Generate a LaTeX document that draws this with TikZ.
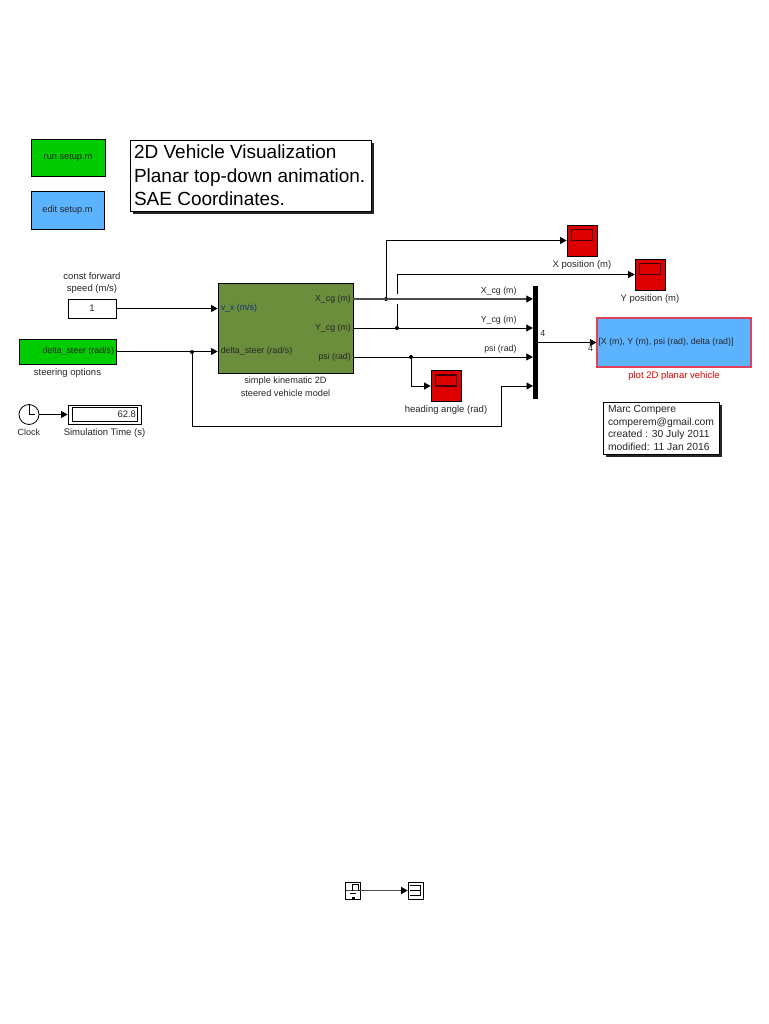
\documentclass[tikz,border=0pt]{standalone}
\usepackage{fontspec}
\setmainfont{Liberation Sans}
\usetikzlibrary{arrows.meta, positioning, shadows}
\definecolor{simgreen}{HTML}{00CC00}
\definecolor{simblue}{HTML}{5CB3FF}
\definecolor{simolive}{HTML}{6B8E3C}
\definecolor{simred}{HTML}{DC0000}
\definecolor{plotedge}{HTML}{E2405A}
\definecolor{porttext}{HTML}{12307A}
\begin{document}
\begin{tikzpicture}[
  x=1pt, y=-1pt,
  font=\fontsize{9.5}{12}\selectfont,
  text=black!85,
  block/.style={rectangle, draw=black, line width=0.8pt, inner sep=0pt, align=center},
  scopebox/.style={block, fill=simred, minimum width=30pt, minimum height=31pt},
  screen/.style={rectangle, draw=black!70!simred, line width=1.3pt, minimum width=21pt, minimum height=11pt, inner sep=0pt},
  notebox/.style={block, fill=white, align=flush left, drop shadow={shadow xshift=3pt, shadow yshift=-3pt, fill=black!85, opacity=1}},
  caption/.style={inner sep=0pt, align=center},
  portlabel/.style={caption, font=\fontsize{8.8}{10}\selectfont},
  button/.style={block, font=\fontsize{9.2}{11}\selectfont},
  junction/.style={circle, fill=black, minimum size=4pt, inner sep=0pt},
  iconbox/.style={block, line width=0.7pt, minimum width=15pt, minimum height=17pt},
  wire/.style={line width=0.8pt, draw=black},
  sig/.style={wire, -{Stealth[length=6.5pt, width=7pt, inset=0pt, black]}},
  heavy/.style={line width=1.2pt, draw=black!70},
]
\useasboundingbox (0,0) rectangle (768,1024);

% Buttons
\node[button, fill=simgreen, minimum width=74pt, minimum height=37pt] (run) at (68,157.5) {run setup.m};
\node[button, fill=simblue, minimum width=73pt, minimum height=38pt] (edit) at (67.5,210) {edit setup.m};

% Title and note
\node[notebox, font=\fontsize{19}{23.4}\selectfont, text=black, minimum width=241pt, minimum height=71pt, text width=233pt] (title) at (250.5,175.5) {2D Vehicle Visualization\\Planar top-down animation.\\SAE Coordinates.};
\node[notebox, font=\fontsize{10.3}{12.4}\selectfont, minimum width=116pt, minimum height=52pt, text width=106pt] (note) at (661,428) {Marc Compere\\comperem@gmail.com\\created : 30 July 2011\\modified: 11 Jan 2016};

% Sources
\node[block, minimum width=48pt, minimum height=19pt] (speed) at (92,308.5) {1};
\node[caption, above=5pt of speed] (speedcap) {const forward\\speed (m/s)};
\node[button, fill=simgreen, minimum width=97pt, minimum height=25pt, text width=93pt, align=flush right, font=\fontsize{8.8}{10}\selectfont] (steer) at (67.5,351.5) {delta\_steer (rad/s)};
\node[caption, below=4pt of steer] (steercap) {steering options};
\node[circle, draw=black, line width=0.8pt, minimum size=20pt, inner sep=0pt] (clock) at (29,414.5) {};
\draw[wire] (clock.center) -- (clock.north) (clock.center) -- ++(6,0);
\node[caption, below=4pt of clock, font=\fontsize{9}{11}\selectfont] (clockcap) {Clock};
\node[block, minimum width=73pt, minimum height=19pt] (sim) at (104.5,414.5) {};
\node[block, minimum width=65pt, minimum height=14pt, text width=63pt, align=flush right] (simval) at (sim.center) {62.8};
\node[caption, below=4pt of sim] (simcap) {Simulation Time (s)};

% Vehicle model
\node[block, fill=simolive, minimum width=135pt, minimum height=90pt] (model) at (285.5,328) {};
\node[caption, below=3pt of model, font=\fontsize{9.2}{13.5}\selectfont] (modelcap) {simple kinematic 2D\\steered vehicle model};
\coordinate (vxport) at (model.west |- speed);
\coordinate (steerport) at (model.west |- steer);
\coordinate (xport) at (353,299);
\coordinate (yport) at (353,328);
\coordinate (psiport) at (353,357);
\node[portlabel, text=porttext, right=3pt of vxport] {v\_x (m/s)};
\node[portlabel, right=3pt of steerport] {delta\_steer (rad/s)};
\node[portlabel, left=2pt of xport] {X\_cg (m)};
\node[portlabel, left=2pt of yport] {Y\_cg (m)};
\node[portlabel, left=2pt of psiport] {psi (rad)};

% Scopes
\node[scopebox] (scopeX) at (582,240.5) {};
\node[screen, yshift=5.5pt] at (scopeX.center) {};
\node[caption, below=4pt of scopeX] {X position (m)};
\node[scopebox] (scopeY) at (650,274.5) {};
\node[screen, yshift=5.5pt] at (scopeY.center) {};
\node[caption, below=4pt of scopeY] {Y position (m)};
\node[scopebox] (scopeH) at (446,386) {};
\node[screen, yshift=5.5pt] at (scopeH.center) {};
\node[caption, below=4pt of scopeH] {heading angle (rad)};

% Mux and plot
\node[rectangle, fill=black, minimum width=5pt, minimum height=113pt, inner sep=0pt] (mux) at (535.5,342.5) {};
\node[block, draw=plotedge, line width=1.2pt, fill=simblue, minimum width=154pt, minimum height=49pt, text width=151pt, align=flush left, font=\fontsize{8.8}{10}\selectfont] (plot) at (674,342.5) {[X (m), Y (m), psi (rad), delta (rad)]};
\node[caption, text=simred, below=4pt of plot] {plot 2D planar vehicle};

% Junctions
\coordinate (gaplow) at (397,304);
\coordinate (gaphigh) at (397,294);
\coordinate (steerbend) at (501,426);
\coordinate (muxin) at (533,386);
\node[junction] (jx) at (386,299) {};
\node[junction] (jy) at (397,328) {};
\node[junction] (jpsi) at (411,357) {};
\node[junction] (jsteer) at (192,352) {};

% Wires
\draw[sig] (speed) -- (vxport);
\draw[sig] (steer.east |- steerport) -- (steerport);
\draw[sig] (clock) -- (sim);
\draw[wire] (jy) -- (gaplow);
\draw[sig] (gaphigh) |- (scopeY);
\draw[sig, heavy] (xport) -- (xport -| mux.west) node[pos=0.81, above=3.5pt, portlabel] {X\_cg (m)};
\draw[sig] (jx.center) |- (scopeX);
\draw[sig] (yport) -- (yport -| mux.west) node[pos=0.81, above=3.5pt, portlabel] {Y\_cg (m)};
\draw[sig] (psiport) -- (psiport -| mux.west) node[pos=0.82, above=3.5pt, portlabel] {psi (rad)};
\draw[sig] (jpsi) |- (scopeH);
\draw[sig] (jsteer) |- (steerbend) |- (muxin);
\draw[sig] (mux) -- (plot) node[pos=0.08, above=6pt, portlabel] {4} node[pos=0.9, below=3pt, portlabel] {4};

% Bottom blocks
\node[iconbox] (from) at (352.5,890.5) {};
\node[iconbox] (goto) at (415.5,890.5) {};
\coordinate (fromstart) at (346,890.5);
\draw[sig, heavy] (fromstart) -- (goto);
\draw[wire, line width=0.7pt] (from.center) -- ++(0,-6) -- ++(5.5,0) -- ++(0,6);
\draw[wire, line width=0.7pt] (from.center) ++(-2.5,3) -- ++(6,0);
\draw[wire, line width=1.2pt] (from.center) ++(-1,7.5) -- ++(3,0);
\draw[wire, line width=0.7pt] (goto.center) ++(-5.5,-5.5) -- ++(10.5,0) -- ++(0,10) -- ++(-10.5,0);
\draw[wire, line width=0.7pt] (goto.center) ++(-5.5,0) -- ++(10.5,0);
\end{tikzpicture}
\end{document}
